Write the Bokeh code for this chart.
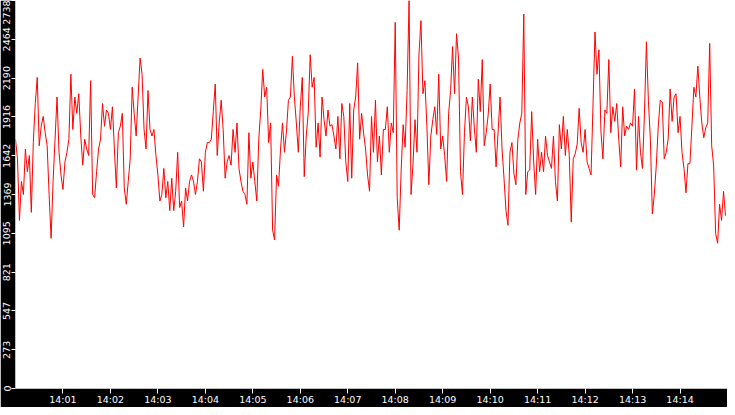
import pandas as pd
from bokeh.plotting import figure
from bokeh.models import Range1d, FixedTicker, DatetimeTickFormatter, ColumnDataSource
from bokeh.embed import file_html
from bokeh.resources import INLINE

# ---- data -------------------------------------------------------------
start_time = "2024-01-01 14:00:00"
end_time = "2024-01-01 14:15:00"
sample_step = "2500ms"

values_1400 = [1759, 1621, 1186, 1461, 1369, 1690, 1530, 1644, 1243, 1736,
               2011, 2195, 1713, 1851, 1920, 1805, 1713, 1369, 1060, 1461,
               1759, 2057, 1667, 1507, 1404, 1599, 1667, 1759, 2218, 1828,
               2057, 1942, 2080, 1782, 1576, 1759, 1690, 1644, 2172, 1369]
values_1401 = [1346, 1530, 1690, 1759, 2011, 1851, 1965, 1942, 1828, 1988,
               1690, 1415, 1805, 1851, 1942, 1415, 1300, 1461, 1621, 2126,
               1942, 1782, 2057, 2332, 2218, 1828, 1690, 2103, 1828, 1782,
               1828, 1644, 1507, 1323, 1369, 1553, 1346, 1461, 1255, 1484]
values_1403 = [1255, 1392, 1667, 1277, 1323, 1140, 1415, 1323, 1461, 1507,
               1461, 1369, 1461, 1621, 1599, 1392, 1667, 1736, 1736, 1759,
               1954, 2149, 1644, 1874, 2034, 1828, 1484, 1599, 1644, 1576,
               1828, 1667, 1874, 1553, 1461, 1392, 1369, 1300, 1805, 1484]
values_1405 = [1599, 1461, 1323, 1759, 1965, 2252, 2057, 2126, 1736, 1874,
               1117, 1048, 1507, 1427, 1690, 1874, 1667, 1816, 2034, 2057,
               2344, 2057, 1874, 1667, 1988, 2195, 1495, 1782, 1942, 2355,
               2126, 2195, 1702, 1874, 1633, 2057, 1897, 1782, 1965, 1851]
values_1406 = [1862, 1782, 1690, 1920, 1621, 2011, 1920, 1599, 1461, 2011,
               1484, 1965, 2057, 2298, 1759, 1942, 1805, 1690, 1507, 1392,
               1920, 1667, 2034, 1599, 1782, 1507, 1828, 1828, 1988, 1667,
               1874, 1805, 2584, 1346, 1117, 1541, 1862, 1702, 2103, 2738]
values_1408 = [1369, 1587, 1897, 1667, 2355, 2596, 2080, 2172, 1851, 1438,
               1782, 1897, 1988, 1793, 2218, 1690, 1782, 1644, 1461, 1942,
               2103, 2413, 2080, 2504, 2332, 1530, 1369, 1805, 2057, 1988,
               1748, 2057, 1839, 1667, 2183, 1954, 2321, 1713, 1805, 1931]
values_1410 = [2149, 1828, 1828, 1564, 1805, 2057, 1690, 1484, 1255, 1151,
               1667, 1736, 1518, 1438, 1759, 1874, 1942, 2642, 1369, 1530,
               1541, 1954, 1599, 1369, 1759, 1530, 1667, 1530, 1782, 1644,
               1599, 1553, 1782, 1461, 1323, 1862, 1690, 1920, 1644, 1828]
values_1411 = [1644, 1174, 1621, 1656, 1725, 1977, 1736, 1667, 1828, 1599,
               1553, 1507, 2000, 2516, 2218, 2390, 1816, 1621, 1965, 1942,
               2321, 1805, 1988, 1885, 2011, 1759, 1564, 1988, 1782, 1851,
               1828, 1874, 1851, 2114, 1541, 1920, 1667, 1553, 1931, 2447]
values_1413 = [2034, 1759, 1232, 1369, 1576, 1851, 2034, 2023, 1621, 1667,
               1759, 2114, 1885, 2057, 2080, 1805, 1920, 1667, 1553, 1381,
               1587, 1587, 1851, 2126, 2057, 2275, 2057, 1874, 1770, 1839,
               1874, 2435, 1713, 1576, 1094, 1025, 1300, 1186, 1392, 1220]

x_tick_labels = ["14:01", "14:02", "14:03", "14:04", "14:05", "14:06", "14:07",
                 "14:08", "14:09", "14:10", "14:11", "14:12", "14:13", "14:14"]
y_tick_labels = ["0", "273", "547", "821", "1095", "1369", "1642",
                 "1916", "2190", "2464", "2738"]

values = (values_1400 + values_1401 + values_1403 + values_1405 + values_1406
          + values_1408 + values_1410 + values_1411 + values_1413)
times = pd.date_range(start_time, periods=len(values), freq=sample_step)
source = ColumnDataSource(data=dict(t=times, v=values))

day = start_time.split(" ")[0]
x_ticks = [pd.Timestamp(day + " " + lbl + ":00").value / 1e6 for lbl in x_tick_labels]
y_ticks = [int(s) for s in y_tick_labels]

# ---- figure -----------------------------------------------------------
p = figure(width=727, height=407, x_axis_type="datetime",
           output_backend="svg", toolbar_location=None,
           x_range=Range1d(pd.Timestamp(start_time), pd.Timestamp(end_time)),
           y_range=Range1d(0, y_ticks[-1]),
           min_border=0)
p.background_fill_color = "white"
p.border_fill_color = "black"
p.outline_line_color = None
p.grid.visible = False

p.line("t", "v", source=source, line_color="#ff0000", line_width=1)

FONT = "DejaVu Sans"
for ax in (p.xaxis[0], p.yaxis[0]):
    ax.axis_line_color = None
    ax.major_tick_line_color = "white"
    ax.minor_tick_line_color = None
    ax.major_label_text_color = "white"
    ax.major_label_text_font = FONT
    ax.major_label_text_font_size = "9.5px"
    ax.major_tick_in = 0

p.xaxis.ticker = FixedTicker(ticks=x_ticks)
p.xaxis.formatter = DatetimeTickFormatter(seconds="%H:%M", minsec="%H:%M",
                                          minutes="%H:%M", hourmin="%H:%M",
                                          hours="%H:%M")
p.xaxis.major_tick_out = 5
p.xaxis.major_label_standoff = 0

p.yaxis.ticker = FixedTicker(ticks=y_ticks)
p.yaxis.major_label_overrides = {v: s for v, s in zip(y_ticks, y_tick_labels)}
p.yaxis.major_label_orientation = "vertical"
p.yaxis.major_tick_out = 4
p.yaxis.major_label_standoff = 1

open("out.html", "w").write(file_html(p, INLINE))
